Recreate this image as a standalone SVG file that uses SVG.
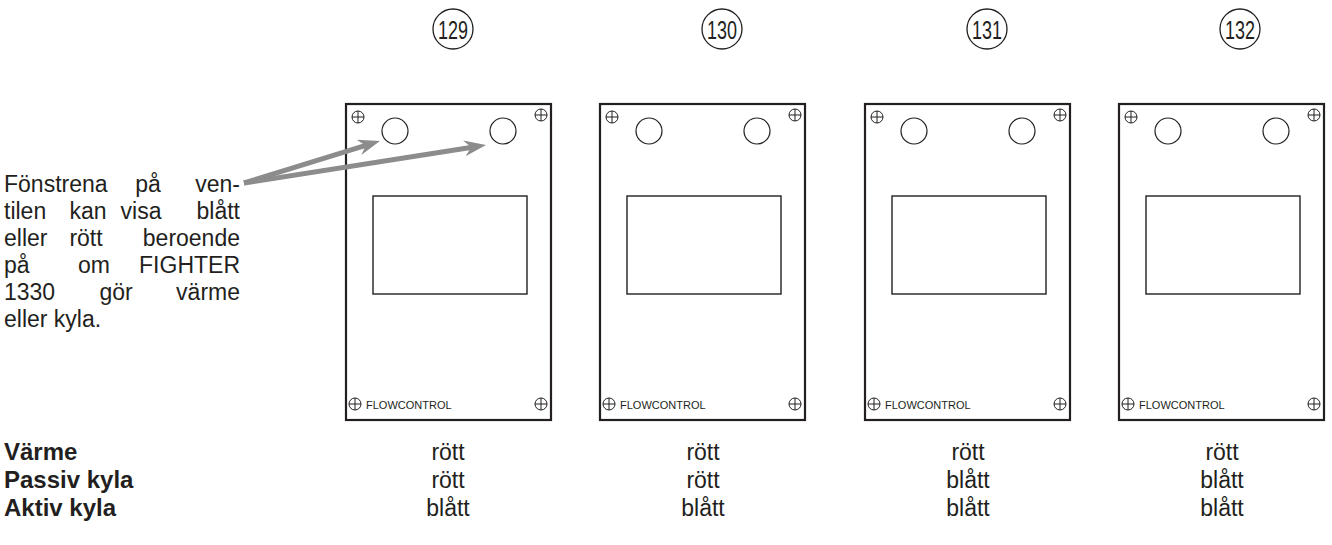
<svg xmlns="http://www.w3.org/2000/svg" width="1332" height="545" viewBox="0 0 1332 545">
<style>
  .txt { font-family: "Liberation Sans", Arial, sans-serif; fill: #231f20; }
  .desc { font-size: 23px; }
  .lbl { font-size: 24px; font-weight: bold; }
  .val { font-size: 23px; text-anchor: middle; }
  .num { font-size: 26px; text-anchor: middle; }
  .numc { fill: none; stroke: #231f20; stroke-width: 1.3; }
  .panel { fill: #fff; stroke: #231f20; stroke-width: 2.2; }
  .win { fill: none; stroke: #231f20; stroke-width: 1.4; }
  .hole { fill: none; stroke: #231f20; stroke-width: 1.2; }
  .screw { fill: none; stroke: #231f20; stroke-width: 1; }
  .fc { font-size: 11px; }
  .arrow { stroke: #8c8c8c; stroke-width: 5; fill: none; }
</style>
<defs>
  <marker id="ah" markerUnits="userSpaceOnUse" markerWidth="24" markerHeight="18" refX="8" refY="9" orient="auto" overflow="visible">
    <path d="M0,1 L22,9 L0,17 L7,9 z" fill="#8c8c8c"/>
  </marker>
  <g id="screw">
    <circle r="6" class="screw"/>
    <path d="M-6,0 H6 M0,-6 V6" class="screw"/>
  </g>
</defs>

<g id="numbers">
  <g id="n129"><circle cx="453" cy="29" r="20" class="numc"/><text x="453" y="38.5" class="txt num" textLength="30" lengthAdjust="spacingAndGlyphs">129</text></g>
  <g id="n130"><circle cx="722" cy="29" r="20" class="numc"/><text x="722" y="38.5" class="txt num" textLength="30" lengthAdjust="spacingAndGlyphs">130</text></g>
  <g id="n131"><circle cx="987" cy="29" r="20" class="numc"/><text x="987" y="38.5" class="txt num" textLength="30" lengthAdjust="spacingAndGlyphs">131</text></g>
  <g id="n132"><circle cx="1240" cy="29" r="20" class="numc"/><text x="1240" y="38.5" class="txt num" textLength="30" lengthAdjust="spacingAndGlyphs">132</text></g>
</g>

<g id="panel1" transform="translate(346,104)">
  <rect x="0" y="0" width="205" height="316" class="panel"/>
  <rect x="27" y="92" width="154" height="98" class="win"/>
  <circle cx="49" cy="27" r="13" class="hole"/>
  <circle cx="157" cy="27" r="13" class="hole"/>
  <use href="#screw" x="12" y="13"/><use href="#screw" x="195" y="11"/>
  <use href="#screw" x="9" y="300"/><use href="#screw" x="195" y="300"/>
  <text x="20" y="305" class="txt fc">FLOWCONTROL</text>
</g>
<g id="panel2" transform="translate(600,104)">
  <rect x="0" y="0" width="205" height="316" class="panel"/>
  <rect x="27" y="92" width="154" height="98" class="win"/>
  <circle cx="49" cy="27" r="13" class="hole"/>
  <circle cx="157" cy="27" r="13" class="hole"/>
  <use href="#screw" x="12" y="13"/><use href="#screw" x="195" y="11"/>
  <use href="#screw" x="9" y="300"/><use href="#screw" x="195" y="300"/>
  <text x="20" y="305" class="txt fc">FLOWCONTROL</text>
</g>
<g id="panel3" transform="translate(865,104)">
  <rect x="0" y="0" width="205" height="316" class="panel"/>
  <rect x="27" y="92" width="154" height="98" class="win"/>
  <circle cx="49" cy="27" r="13" class="hole"/>
  <circle cx="157" cy="27" r="13" class="hole"/>
  <use href="#screw" x="12" y="13"/><use href="#screw" x="195" y="11"/>
  <use href="#screw" x="9" y="300"/><use href="#screw" x="195" y="300"/>
  <text x="20" y="305" class="txt fc">FLOWCONTROL</text>
</g>
<g id="panel4" transform="translate(1119,104)">
  <rect x="0" y="0" width="205" height="316" class="panel"/>
  <rect x="27" y="92" width="154" height="98" class="win"/>
  <circle cx="49" cy="27" r="13" class="hole"/>
  <circle cx="157" cy="27" r="13" class="hole"/>
  <use href="#screw" x="12" y="13"/><use href="#screw" x="195" y="11"/>
  <use href="#screw" x="9" y="300"/><use href="#screw" x="195" y="300"/>
  <text x="20" y="305" class="txt fc">FLOWCONTROL</text>
</g>

<g id="description" class="txt desc">
  <text y="192"><tspan x="4">Fönstrena</tspan><tspan x="148" text-anchor="middle">på</tspan><tspan x="240" text-anchor="end">ven-</tspan></text>
  <text y="219"><tspan x="4">tilen</tspan><tspan x="88" text-anchor="middle">kan</tspan><tspan x="141" text-anchor="middle">visa</tspan><tspan x="240" text-anchor="end">blått</tspan></text>
  <text y="246"><tspan x="4">eller</tspan><tspan x="86" text-anchor="middle">rött</tspan><tspan x="240" text-anchor="end">beroende</tspan></text>
  <text y="273"><tspan x="4">på</tspan><tspan x="94" text-anchor="middle">om</tspan><tspan x="240" text-anchor="end">FIGHTER</tspan></text>
  <text y="300"><tspan x="4">1330</tspan><tspan x="116" text-anchor="middle">gör</tspan><tspan x="240" text-anchor="end">värme</tspan></text>
  <text y="327"><tspan x="4">eller kyla.</tspan></text>
</g>

<g id="connectors">
  <line x1="244" y1="183" x2="366.6" y2="145.1" class="arrow" marker-end="url(#ah)"/>
  <line x1="244" y1="183" x2="472.2" y2="147.2" class="arrow" marker-end="url(#ah)"/>
</g>

<g id="table" class="txt">
  <text x="4" y="460" class="lbl">Värme</text>
  <text x="4" y="488" class="lbl">Passiv kyla</text>
  <text x="4" y="516" class="lbl">Aktiv kyla</text>
  <text x="448" y="460" class="val">rött</text>
  <text x="703" y="460" class="val">rött</text>
  <text x="968" y="460" class="val">rött</text>
  <text x="1222" y="460" class="val">rött</text>
  <text x="448" y="488" class="val">rött</text>
  <text x="703" y="488" class="val">rött</text>
  <text x="968" y="488" class="val">blått</text>
  <text x="1222" y="488" class="val">blått</text>
  <text x="448" y="516" class="val">blått</text>
  <text x="703" y="516" class="val">blått</text>
  <text x="968" y="516" class="val">blått</text>
  <text x="1222" y="516" class="val">blått</text>
</g>
</svg>
